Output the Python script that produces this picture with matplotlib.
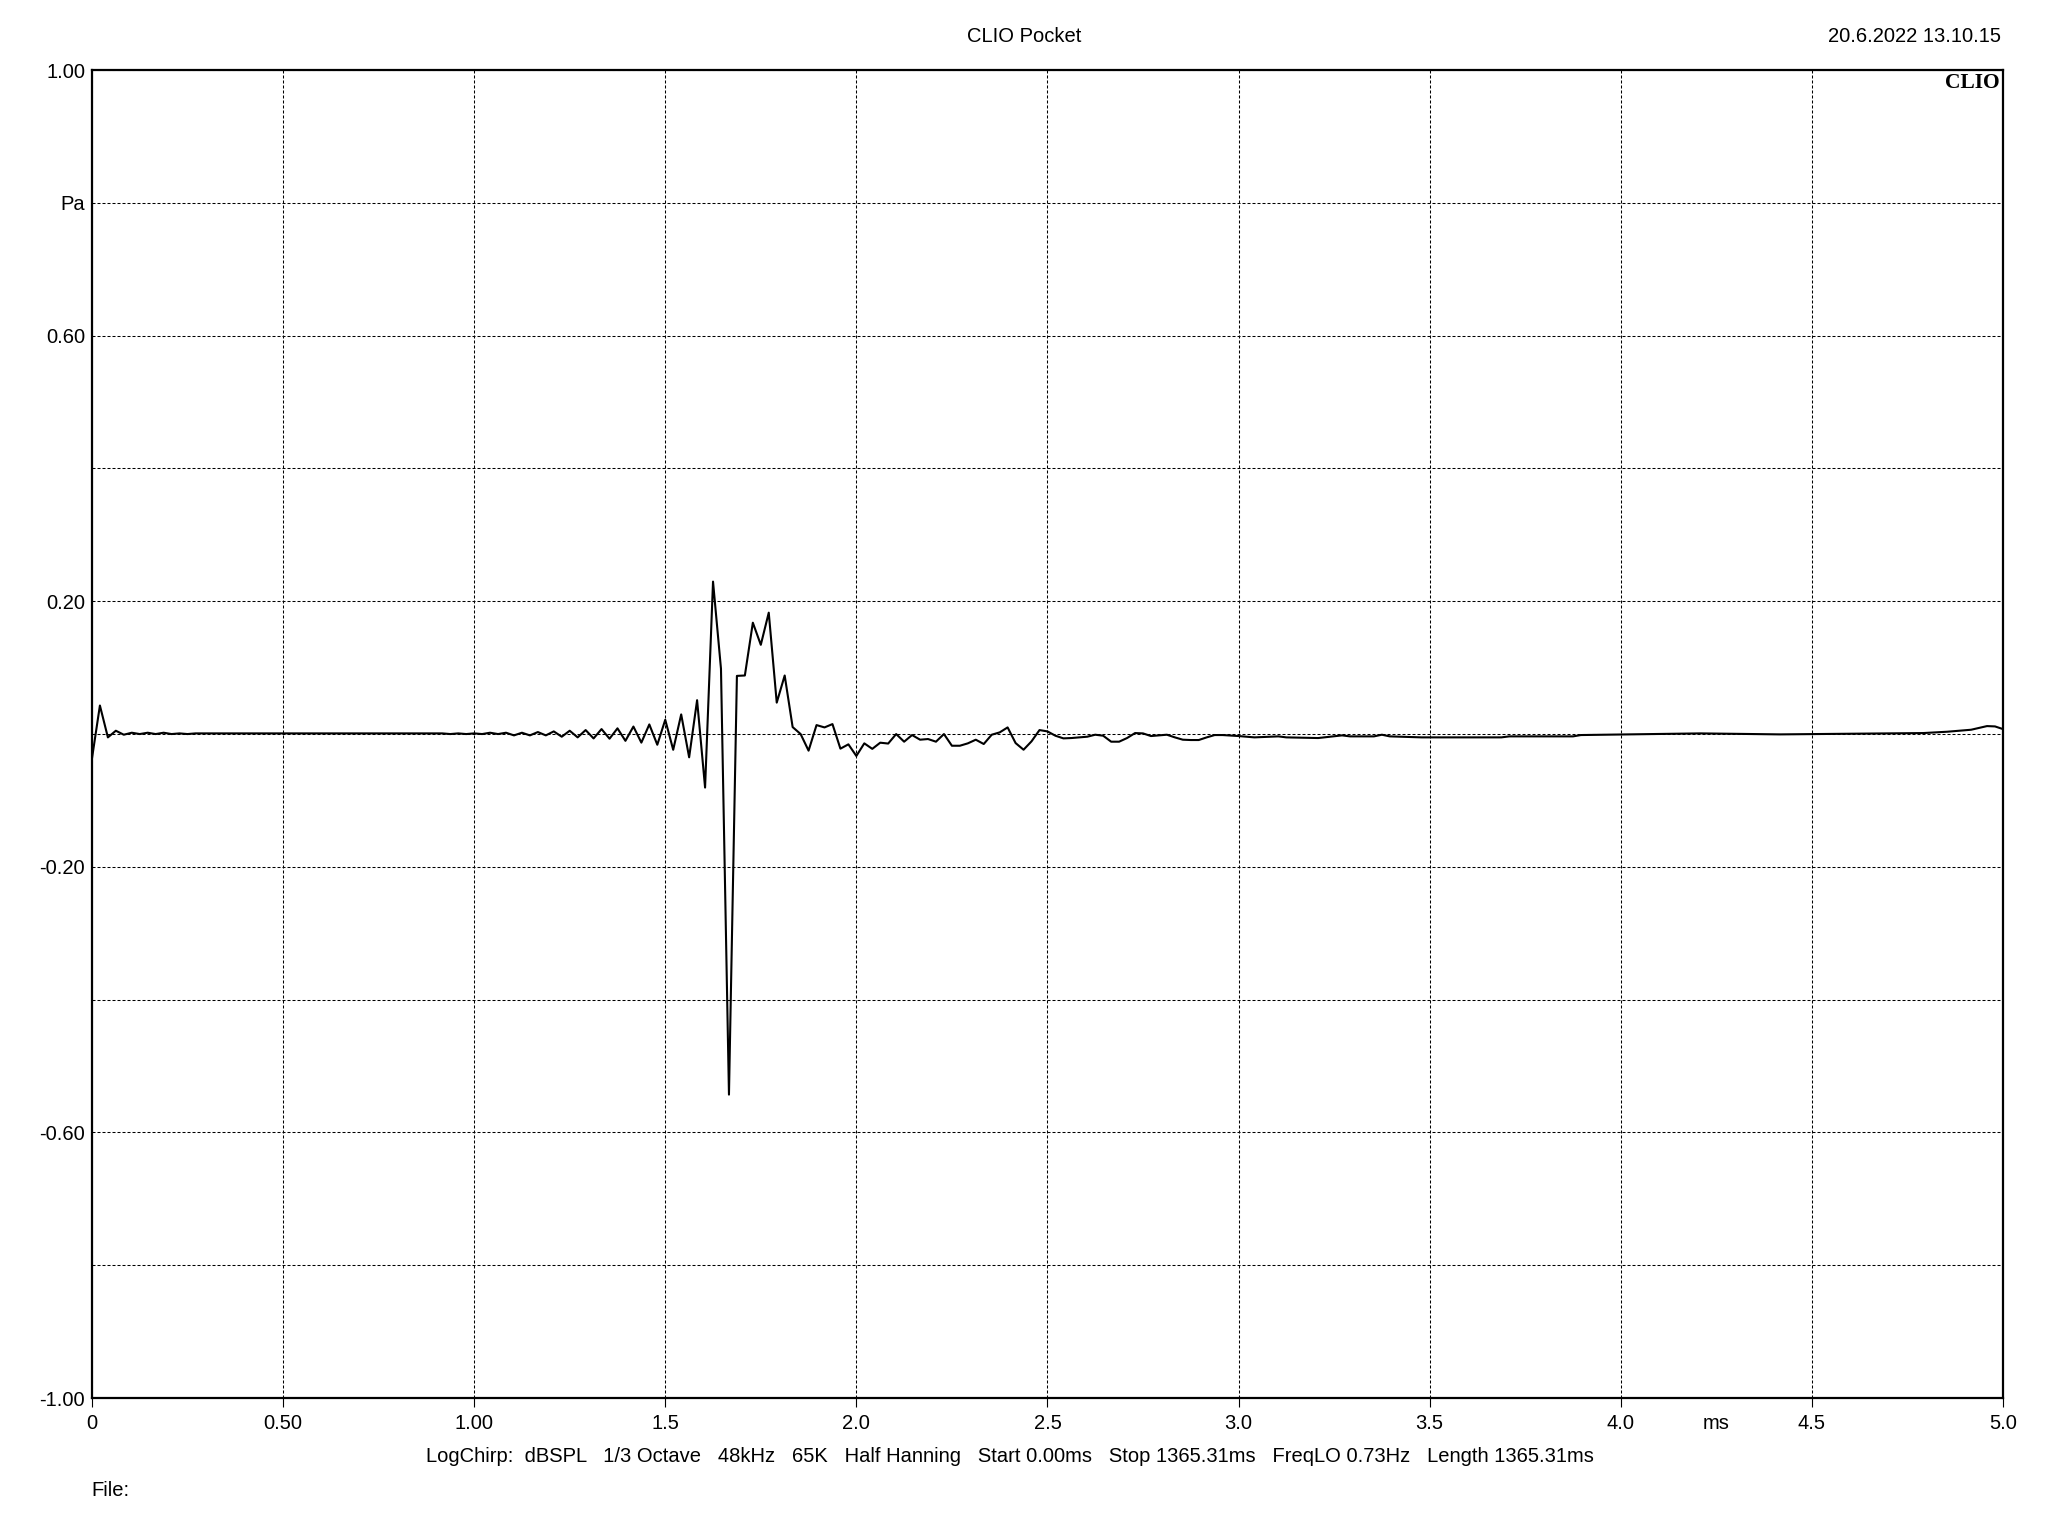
from matplotlib import pyplot as plt
from matplotlib import ticker
import numpy as np

# impulse response (time in ms, pressure in Pa)
t_ms = [0.0, 0.0208, 0.0417, 0.0625, 0.0833, 0.1042, 0.125, 0.1458, 0.1667,
        0.1875, 0.2083, 0.2292, 0.25, 0.2708,
        0.9167, 0.9375, 0.9583, 0.9792, 1.0, 1.0208, 1.0417, 1.0625, 1.0833,
        1.1042, 1.125, 1.1458, 1.1667, 1.1875, 1.2083, 1.2292, 1.25, 1.2708,
        1.2917, 1.3125, 1.3333, 1.3542, 1.375, 1.3958, 1.4167, 1.4375, 1.4583,
        1.4792, 1.5, 1.5208, 1.5417, 1.5625, 1.5833, 1.6042, 1.625, 1.6458,
        1.6667, 1.6875, 1.7083, 1.7292, 1.75, 1.7708, 1.7917, 1.8125, 1.8333,
        1.8542, 1.875, 1.8958, 1.9167, 1.9375, 1.9583, 1.9792, 2.0, 2.0208,
        2.0417, 2.0625, 2.0833, 2.1042, 2.125, 2.1458, 2.1667, 2.1875, 2.2083,
        2.2292, 2.25, 2.2708, 2.2917, 2.3125, 2.3333, 2.3542, 2.375, 2.3958,
        2.4167, 2.4375, 2.4583, 2.4792, 2.5, 2.5208, 2.5417, 2.5625, 2.5833,
        2.6042, 2.625, 2.6458, 2.6667, 2.6875, 2.7083, 2.7292, 2.75, 2.7708,
        2.7917, 2.8125, 2.8333, 2.8542, 2.875, 2.8958, 2.9167, 2.9375, 2.9583,
        3.0, 3.0417, 3.1042, 3.125, 3.2083, 3.2708, 3.2917, 3.3542, 3.375,
        3.3958, 3.4792, 3.6875, 3.7083, 3.875, 3.8958, 4.0208, 4.2083, 4.4167,
        4.7917, 4.8542, 4.9167, 4.9583, 4.9792, 5.0]
pa = [-0.037, 0.043, -0.005, 0.005, -0.001, 0.002, 0.0, 0.002, 0.0,
      0.002, 0.0, 0.001, 0.0, 0.001,
      0.001, 0.0, 0.001, 0.0, 0.001, 0.0, 0.002, 0.0, 0.002,
      -0.002, 0.002, -0.002, 0.003, -0.002, 0.004, -0.004, 0.005, -0.005,
      0.006, -0.0066, 0.0075, -0.007, 0.0086, -0.0102, 0.0113, -0.0129, 0.0145,
      -0.0161, 0.0215, -0.0237, 0.0296, -0.035, 0.051, -0.0806, 0.2296, 0.0984,
      -0.543, 0.0876, 0.0882, 0.1677, 0.1344, 0.1828, 0.0473, 0.0882, 0.0105,
      0.0, -0.025, 0.0135, 0.010, 0.015, -0.022, -0.0155, -0.033, -0.014,
      -0.0223, -0.013, -0.0143, 0.0, -0.0115, -0.0015, -0.0085, -0.0075, -0.0115,
      0.0, -0.0176, -0.0176, -0.014, -0.0085, -0.015, -0.001, 0.0025, 0.010,
      -0.0136, -0.0236, -0.011, 0.006, 0.004, -0.0025, -0.0065, -0.006, -0.005,
      -0.004, -0.001, -0.0025, -0.0115, -0.0115, -0.006, 0.0015, 0.001, -0.003,
      -0.002, -0.001, -0.005, -0.0085, -0.009, -0.009, -0.005, -0.0015, -0.0015,
      -0.003, -0.005, -0.0035, -0.005, -0.006, -0.002, -0.0035, -0.0035, -0.001,
      -0.0035, -0.005, -0.005, -0.0035, -0.0035, -0.0015, -0.0005, 0.001, -0.0005,
      0.0015, 0.0035, 0.0065, 0.012, 0.0115, 0.0075]

x_ticks = [0, 0.5, 1.0, 1.5, 2.0, 2.5, 3.0, 3.5, 4.0, 4.5, 5.0]
x_labels = ['0', '0.50', '1.00', '1.5', '2.0', '2.5', '3.0', '3.5', '4.0', '4.5', '5.0']
y_ticks = [1.0, 0.8, 0.6, 0.4, 0.2, 0.0, -0.2, -0.4, -0.6, -0.8, -1.0]
y_labels = ['1.00', 'Pa', '0.60', '', '0.20', '', '-0.20', '', '-0.60', '', '-1.00']

info = ('LogChirp:  dBSPL   1/3 Octave   48kHz   65K   Half Hanning   '
        'Start 0.00ms   Stop 1365.31ms   FreqLO 0.73Hz   Length 1365.31ms')

plt.rcParams['font.family'] = ['Liberation Sans', 'DejaVu Sans']
plt.rcParams['font.size'] = 14.5

fig = plt.figure(figsize=(20.48, 15.36), dpi=100)
ax = fig.add_axes([0.0449, 0.0898, 0.9331, 0.8646])

ax.plot(t_ms, pa, color='k', lw=1.5)

ax.set_xlim(0, 5)
ax.set_ylim(-1, 1)
ax.set_xticks(x_ticks)
ax.set_xticklabels(x_labels)
ax.set_yticks(y_ticks)
ax.set_yticklabels(y_labels)
ax.tick_params(axis='x', direction='out', length=6.5, width=0.8, pad=5)
ax.tick_params(axis='y', length=0, pad=5)
ax.grid(True, color='k', lw=0.75, linestyle=(0, (2.9, 1.9)))
for s in ax.spines.values():
    s.set_linewidth(1.6)

# unit label sits in the tick label row between 4.0 and 4.5
ax.text(4.25, -0.0118, 'ms', transform=ax.get_xaxis_transform(),
    ha='center', va='top')
ax.text(0.9985, 0.998, 'CLIO', transform=ax.transAxes, ha='right', va='top',
    family='Liberation Serif', fontweight='bold', fontsize=15.5)

fig.text(0.5, 1 - 36 / 1536, 'CLIO Pocket', ha='center', va='center')
fig.text(2001 / 2048, 1 - 36 / 1536, '20.6.2022 13.10.15', ha='right', va='center')
fig.text(426 / 2048, 1 - 1456 / 1536, info, ha='left', va='center')
fig.text(91 / 2048, 1 - 1490 / 1536, 'File:', ha='left', va='center')

fig.savefig('out.png', dpi=100)
